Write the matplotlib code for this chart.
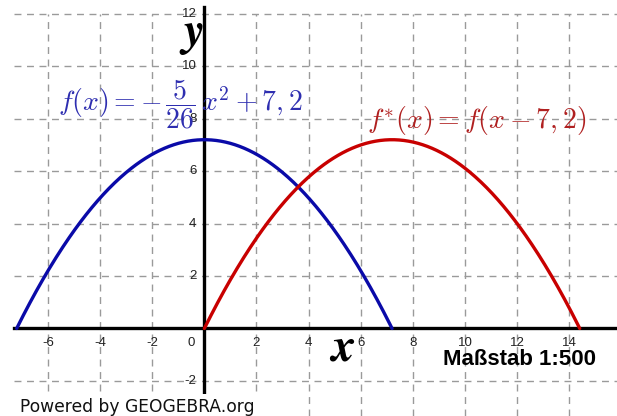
import numpy as np
import matplotlib
matplotlib.use("Agg")
import matplotlib.pyplot as plt

# Parabola parameters
vertex_height = 7.2          # f(0)
root = 7.2                   # f(±7.2) = 0
shift = 7.2                  # f*(x) = f(x - 7.2)
coef = vertex_height / root**2

x_tick_values = [-6, -4, -2, 0, 2, 4, 6, 8, 10, 12, 14]
y_tick_values = [-2, 2, 4, 6, 8, 10, 12]
x_grid = [-6, -4, -2, 0, 2, 4, 6, 8, 10, 12, 14]
y_grid = [-2, 2, 4, 6, 8, 10, 12]

blue_label = r"$f(x) = -\,\dfrac{5}{26}\,x^2 + 7,2$"
red_label = r"$f^{*}(x) = f(x - 7,2)$"


def f(x):
    return -coef * x**2 + vertex_height


plt.rcParams["mathtext.fontset"] = "cm"

fig = plt.figure(figsize=(6.17, 4.16), dpi=100)
ax = fig.add_axes([0, 0, 1, 1])
ax.set_xlim(-7.84, 15.83)
ax.set_ylim(-3.34, 12.53)
ax.axis("off")

grid_style = dict(color="#9a9a9a", lw=1.0, ls=(0, (5, 4)), zorder=1)
x_left, y_top = -7.31, 12.0
for gx in x_grid:
    ax.plot([gx, gx], [-3.34, y_top], **grid_style)
for gy in y_grid:
    ax.plot([x_left, 15.83], [gy, gy], **grid_style)

# axes
ax.plot([x_left, 15.83], [0, 0], color="black", lw=2.4, zorder=3)
ax.plot([0, 0], [-2.5, 12.27], color="black", lw=2.4, zorder=3)

# tick labels
tick_font = dict(family="Liberation Sans", fontsize=9.5, color="#222222", zorder=4)
for tx in x_tick_values:
    if tx == 0:
        ax.text(-0.5, -0.55, "0", ha="center", va="center", **tick_font)
    else:
        ax.text(tx, -0.55, str(tx), ha="center", va="center", **tick_font)
for ty in y_tick_values:
    ax.text(-0.3, ty, str(ty), ha="right", va="center", **tick_font)

# curves
xb = np.linspace(-root, root, 400)
ax.plot(xb, f(xb), color="#0a0aa8", lw=2.4, zorder=5, solid_capstyle="round")
xr = np.linspace(shift - root, shift + root, 400)
ax.plot(xr, f(xr - shift), color="#c80000", lw=2.4, zorder=5, solid_capstyle="round")

# formulas
ax.text(-5.62, 8.55, blue_label, color="#2e2eb0", fontsize=20, ha="left", va="center", zorder=6)
ax.text(6.24, 7.93, red_label, color="#b02020", fontsize=20, ha="left", va="center", zorder=6)

# axis names
ax.text(-0.5, 11.2, r"$\boldsymbol{y}$", fontsize=34, ha="center", va="center",
        math_fontfamily="stix", zorder=6)
ax.text(5.28, -0.75, r"$\boldsymbol{x}$", fontsize=34, ha="center", va="center",
        math_fontfamily="stix", zorder=6)

ax.text(0.966, 0.135, "Maßstab 1:500", transform=ax.transAxes, family="Liberation Sans",
        fontweight="bold", fontsize=16, ha="right", va="center", zorder=6)

ax.text(0.032, 0.022, "Powered by GEOGEBRA.org", transform=ax.transAxes,
        family="DejaVu Sans", fontsize=12.3, ha="left", va="center", color="#111111", zorder=7,
        bbox=dict(facecolor="white", edgecolor="none", pad=3))

fig.savefig("out.png", dpi=100)
